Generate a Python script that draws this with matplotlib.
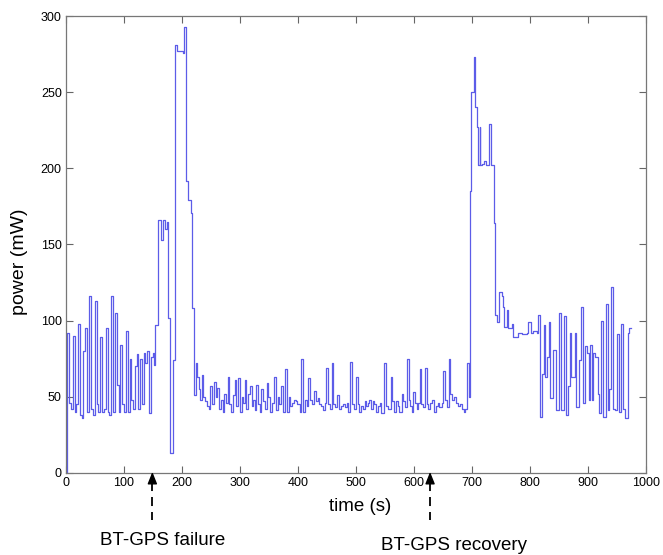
import matplotlib
matplotlib.use("Agg")
import matplotlib.pyplot as plt

plt.rcParams['font.family'] = ['Liberation Sans', 'DejaVu Sans']
plt.rcParams['lines.scale_dashes'] = False

# sample start times (s) and power (mW), held until the next sample
t = [0, 1.5, 5, 9, 12, 15, 18, 21, 24, 27, 30, 33, 36, 40, 43, 47, 50, 53, 56,
     59, 62, 66, 69, 72, 75, 78, 81, 85, 88, 91, 94, 97, 100, 104, 107, 110,
     113, 116, 119, 122, 125, 128, 131, 134, 137, 140, 143, 146, 149.5, 152,
     154, 158, 164, 166.7, 171, 173.5, 176, 179, 183.8, 187.8, 192, 201, 203.8,
     206.6, 211, 215, 218, 221, 224, 226.6,
     229, 232, 235, 237, 240, 243, 246, 249, 252, 255, 258, 261, 264, 267, 270,
     273, 276, 279, 282, 285, 288, 291, 294, 297, 300, 303, 306, 308, 311, 314,
     317, 320, 323, 326, 328, 331, 334, 337, 340, 343, 346, 349, 352, 355, 359,
     362, 365, 368, 371, 374, 378, 381, 384, 387, 390, 393, 396, 399, 403, 406,
     409, 412, 415, 418, 421, 424, 428, 431, 434, 437, 440, 443, 446, 449, 452,
     455, 458, 461, 464, 468, 471, 474, 478, 481, 484, 487, 490, 493, 497, 500,
     503, 506, 509, 512, 515, 518, 521, 523, 526, 529, 532, 535, 538, 541, 544,
     549, 552, 556, 560, 563, 566, 569, 572, 575, 579, 582, 585, 588, 591, 594,
     597, 599, 602, 605, 608, 610, 613, 616, 619, 622, 625, 628, 632, 635, 638,
     641, 644, 648, 651, 654, 657, 660, 663, 666, 670, 673, 676, 680, 683, 686,
     689, 692, 695,
     696.4, 698.6, 703.2, 706, 708.9, 710, 713.5, 714.6, 718, 720.3, 724.9,
     728.9, 733.5, 737.5, 740.3, 743.2, 747.7, 751.7, 753.4, 755.7, 760.3,
     763.1, 768.9, 771.7, 780, 786, 794.5, 797.4, 801.4, 806, 811.7, 814.5,
     817.4, 820.2, 824.2, 825.9, 829.9, 833.4, 835.6, 840.2, 845.9, 850.5,
     854.5, 859, 861.9, 865.9, 868.7, 871.6, 877.3, 880.2, 884.7, 888.7, 891.6,
     894.4, 898.4, 901.9, 904.1, 907.6, 909.8, 913.3, 917.3, 920.1, 923, 925.8,
     931.5, 934.4, 937.2, 940.1, 942.9, 947.5, 950.4, 953.2, 957.2, 961.2,
     964.6, 968.6, 971.5, 974]
power = [0, 92, 46, 42, 90, 40, 45, 98, 38, 36, 80, 95, 40, 116, 42, 38, 113,
         45, 40, 89, 40, 42, 95, 40, 38, 116, 40, 105, 58, 40, 84, 45, 40, 93,
         40, 75, 48, 42, 70, 78, 42, 75, 45, 79, 72, 80, 39, 76, 79, 71,
         97, 166, 153, 166, 160, 165, 102, 13, 74, 281, 277, 276, 293,
         192, 179, 171, 108, 51, 72, 63,
         55, 48, 64, 50, 47, 44, 42, 57, 45, 60, 50, 56, 42, 48, 40,
         52, 46, 63, 45, 40, 51, 61, 44, 62, 40, 50, 46, 61, 42, 52,
         57, 44, 48, 41, 58, 45, 40, 55, 47, 42, 59, 50, 40, 46, 63,
         41, 50, 45, 57, 40, 68, 40, 50, 44, 46, 48, 47, 45, 40, 75,
         40, 48, 44, 62, 48, 45, 54, 47, 49, 45, 44, 41, 46, 69, 45,
         42, 72, 45, 43, 51, 42, 44, 45, 43, 46, 40, 73, 45, 42, 63,
         45, 40, 44, 42, 47, 44, 46, 48, 42, 47, 45, 40, 44, 46, 39,
         72, 44, 42, 63, 47, 40, 47, 44, 40, 52, 47, 43, 75, 48, 44,
         40, 53, 46, 42, 46, 68, 45, 43, 69, 45, 42, 46, 48, 40, 44,
         46, 43, 46, 67, 48, 43, 75, 52, 48, 50, 46, 44, 45, 42, 40,
         42, 72, 50,
         185, 250, 273, 240, 227, 202, 227, 202, 203, 205, 202,
         229, 202, 164, 104, 99, 119, 116, 109, 96, 107,
         95, 98, 89, 92, 91, 92, 99, 92, 93, 92, 104,
         37, 65, 97, 63, 76, 99, 49, 81, 41, 105,
         41, 103, 38, 57, 92, 63, 92, 43, 74, 109, 46,
         83, 79, 48, 84, 48, 79, 76, 52, 39, 100, 37,
         111, 41, 55, 122, 42, 41, 91, 40, 98, 42,
         36, 92, 95, 95]

# events: arrow time, label, label centre time
events = [(149, 'BT-GPS failure', 166),
          (628, 'BT-GPS recovery', 669)]

fig = plt.figure(figsize=(6.63, 5.55), dpi=100)
ax = fig.add_axes([0.0995, 0.148, 0.8745, 0.823])

ax.step(t, power, where='post', color='#5c5ce8', linewidth=0.9)

ax.set_xlim(0, 1000)
ax.set_ylim(0, 300)
ax.set_xticks(range(0, 1001, 100))
ax.set_yticks(range(0, 301, 50))
ax.tick_params(direction='in', top=True, right=True, length=5,
               labelsize=9, color='#666666', pad=3)
for s in ax.spines.values():
    s.set_color('#777777')
    s.set_linewidth(0.9)

ax.set_xlabel('time (s)', fontsize=13.5)
ax.xaxis.label.set_va('center')
ax.xaxis.set_label_coords(0.507, -0.074)
ax.set_ylabel('power (mW)', fontsize=14)
ax.yaxis.label.set_va('center')
ax.yaxis.set_label_coords(-0.081, 0.462)

# event markers under the x axis
tr = ax.get_xaxis_transform()
for i, (x, label, tx) in enumerate(events):
    ax.annotate('', xy=(x, 0.002), xycoords=tr, xytext=(x, -0.0197),
                textcoords=tr,
                arrowprops=dict(arrowstyle='-|>,head_length=0.4,head_width=0.16',
                                color='black', lw=1.0, mutation_scale=18,
                                shrinkA=0, shrinkB=0),
                annotation_clip=False)
    ax.plot([x, x], [-0.0197, -0.103], transform=tr, color='black', lw=1.3,
            dashes=(6.5, 4.3), clip_on=False)
    ax.text(tx, -0.149 - 0.009 * i, label, transform=tr, ha='center',
            va='center', fontsize=13.5)

fig.savefig('out.png', dpi=100)
